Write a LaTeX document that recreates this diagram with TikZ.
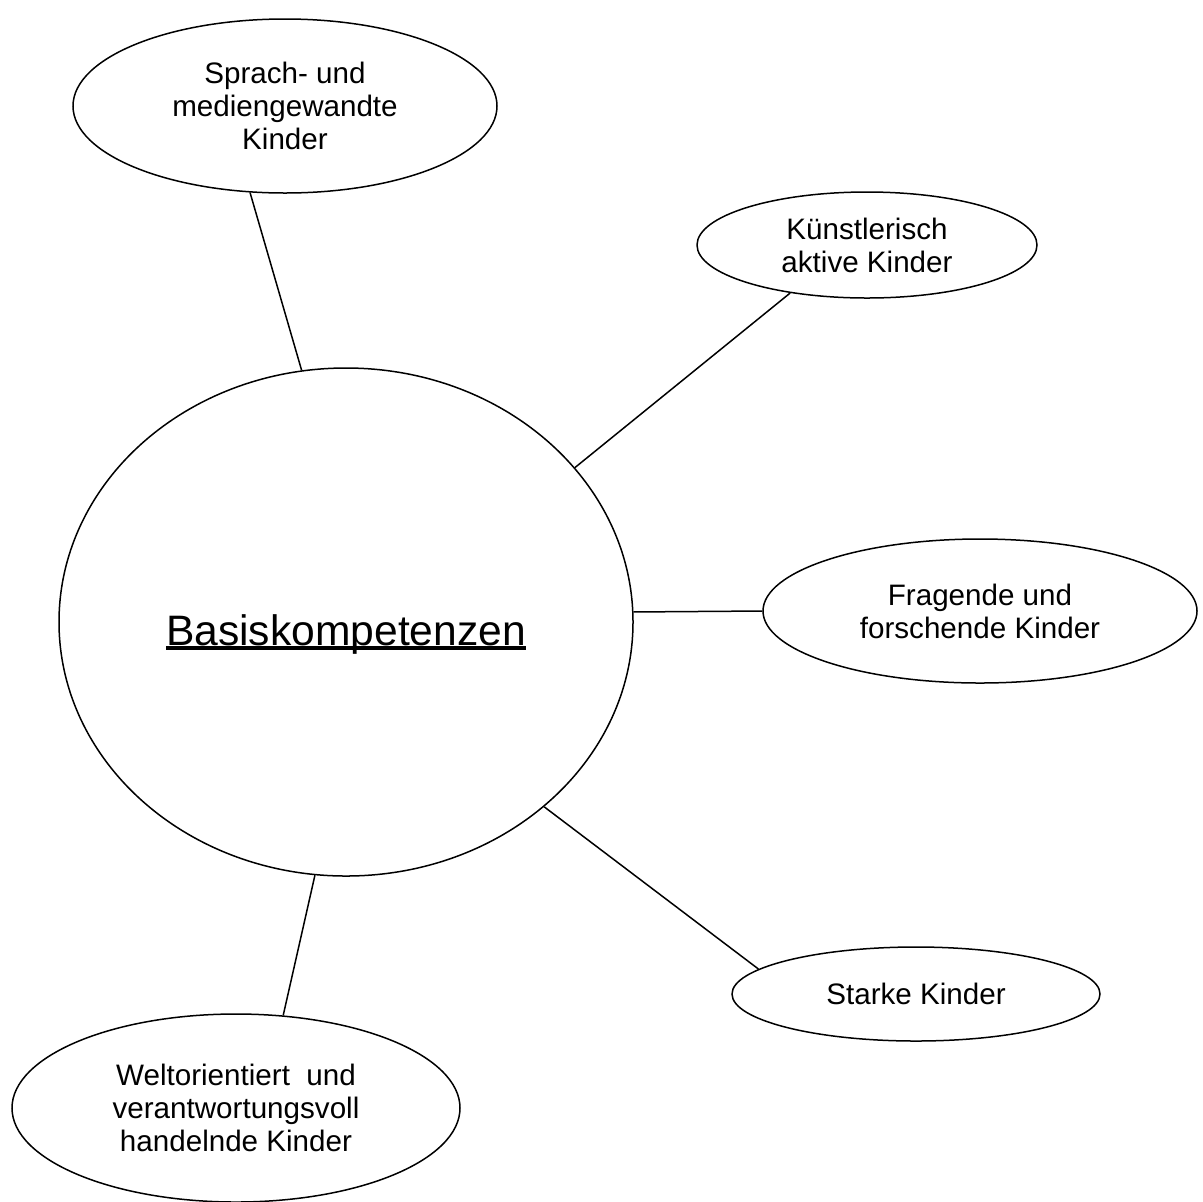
\documentclass[tikz,border=0pt]{standalone}
\usepackage{fontspec}
\setmainfont{Liberation Sans}
\usetikzlibrary{shapes.geometric}
\newcommand{\basisul}[1]{\setbox0\hbox{#1}\leavevmode\rlap{\rule[-2.5pt]{\wd0}{2pt}}\box0}
\begin{document}
\begin{tikzpicture}[
x=0.5pt,
y=0.5pt,
kind/.style={%
draw,
ellipse,
inner sep=0pt,
align=center,
line width=0.75pt,
font=\fontsize{14.8}{16.5}\selectfont,
},
basis/.style={%
draw,
ellipse,
inner sep=0pt,
line width=0.75pt,
minimum width=287pt,
minimum height=254pt,
text height=27.5pt,
text depth=4.5pt,
font=\fontsize{21.3}{26}\selectfont,
},
link/.style={%
line width=0.75pt,
}
]
\useasboundingbox (0,0) rectangle (1203,-1201);
%% Centre
\node[basis]at(346,-622)(bk){\basisul{Basiskompetenzen}};
%% Kinder
\node[kind, minimum width=212pt, minimum height=87pt]at(285,-106)(sprach){Sprach- und\\mediengewandte\\Kinder};
\node[kind, minimum width=170pt, minimum height=53pt]at(867,-245)(kunst){Künstlerisch\\aktive Kinder};
\node[kind, minimum width=217pt, minimum height=72pt]at(980,-611)(frag){Fragende und\\forschende Kinder};
\node[kind, minimum width=184pt, minimum height=47pt]at(916,-994)(stark){Starke Kinder};
\node[kind, minimum width=224pt, minimum height=94pt]at(236,-1108)(welt){Weltorientiert\ \ und\\verantwortungsvoll\\handelnde Kinder};
%% Lines
\draw[link](sprach.-112)--(bk.100.6);
\draw[link](bk.34.4)--(kunst.-148.5);
\draw[link](bk.2.2)--(frag.180);
\draw[link](bk.-43)--(stark.171);
\draw[link](bk.-97)--(welt.63);
\end{tikzpicture}
\end{document}
